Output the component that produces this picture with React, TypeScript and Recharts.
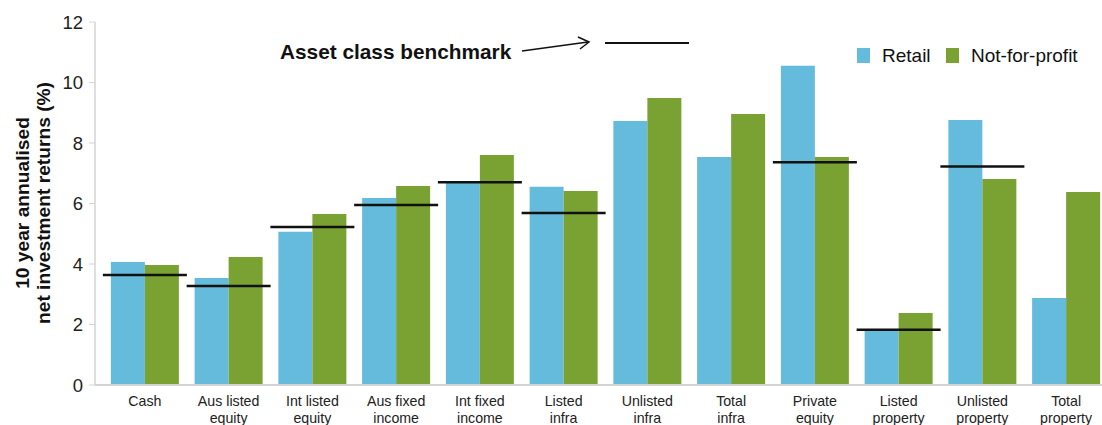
import React from 'react';
import { ComposedChart, Bar, Scatter, XAxis, YAxis } from 'recharts';

const categories = [
  'Cash|', 'Aus listed|equity', 'Int listed|equity', 'Aus fixed|income', 'Int fixed|income',
  'Listed|infra', 'Unlisted|infra', 'Total|infra', 'Private|equity', 'Listed|property',
  'Unlisted|property', 'Total|property',
];
const retail = [4.07, 3.54, 5.07, 6.18, 6.68, 6.55, 8.73, 7.54, 10.55, 1.82, 8.76, 2.88];
const notForProfit = [3.97, 4.23, 5.65, 6.58, 7.6, 6.41, 9.49, 8.96, 7.54, 2.38, 6.81, 6.38];
const benchmark: (number | null)[] = [3.64, 3.27, 5.22, 5.95, 6.7, 5.69, null, null, 7.36, 1.83, 7.22, null];
const yTicks = [0, 2, 4, 6, 8, 10, 12];

const data = categories.map((name, i) => ({
  name,
  retail: retail[i],
  nfp: notForProfit[i],
  benchmark: benchmark[i],
}));

const BLUE = '#65bbdb';
const GREEN = '#79a232';
const FONT = '"Liberation Sans", Arial, sans-serif';

const CategoryTick = (props: any) => {
  const { x, y, payload } = props;
  const [l1, l2] = String(payload.value).split('|');
  return (
    <text x={x} y={y} textAnchor="middle" fontFamily={FONT} fontSize={14.2} fill="#222">
      <tspan x={x} dy={13}>{l1}</tspan>
      {l2 ? <tspan x={x} dy={16.5}>{l2}</tspan> : null}
    </text>
  );
};

const BenchShape = (props: any) => {
  const { cx, cy, payload } = props;
  if (payload == null || payload.benchmark == null || cy == null || isNaN(cy)) return null;
  return <line x1={cx - 42} x2={cx + 42} y1={cy} y2={cy} stroke="#111" strokeWidth={2.5} />;
};

const YLabel = () => {
  const cx = 33;
  const cy = 203;
  return (
    <text
      transform={`rotate(-90, ${cx}, ${cy})`}
      x={cx}
      y={cy}
      textAnchor="middle"
      fontFamily={FONT}
      fontWeight="bold"
      fontSize={19.2}
      fill="#111"
    >
      <tspan x={cx} dy={-4}>10 year annualised</tspan>
      <tspan x={cx} dy={21}>net investment returns (%)</tspan>
    </text>
  );
};

export default function App() {
  return (
    <div style={{ position: 'absolute', left: 0, top: 0, width: 1102, height: 425, overflow: 'hidden', background: '#fff' }}>
      <ComposedChart
        width={1108}
        height={425}
        data={data}
        margin={{ top: 22, right: 0, bottom: 0, left: 0 }}
        barCategoryGap="9.4%"
        barGap={0}
      >
        <XAxis
          dataKey="name"
          height={40}
          padding={{ left: 8, right: 0 }}
          axisLine={{ stroke: '#d4d4d4', strokeWidth: 2 }}
          tickLine={false}
          interval={0}
          tick={<CategoryTick />}
        />
        <YAxis
          width={95}
          domain={[0, 12]}
          ticks={yTicks}
          interval={0}
          axisLine={{ stroke: '#d4d4d4', strokeWidth: 1.5 }}
          tickLine={{ stroke: '#d4d4d4' }}
          tickSize={6}
          tickMargin={6}
          tick={{ fontFamily: FONT, fontSize: 18.5, fill: '#222' }}
          label={{ content: <YLabel /> }}
        />
        <Bar dataKey="retail" name="Retail" fill={BLUE} isAnimationActive={false} />
        <Bar dataKey="nfp" name="Not-for-profit" fill={GREEN} isAnimationActive={false} />
        <Scatter dataKey="benchmark" name="Asset class benchmark" shape={<BenchShape />} isAnimationActive={false} legendType="none" />
      </ComposedChart>
      <svg width={1102} height={425} style={{ position: 'absolute', left: 0, top: 0, pointerEvents: 'none' }}>
        <text x={280} y={59} fontFamily={FONT} fontWeight="bold" fontSize={20.8} fill="#111">Asset class benchmark</text>
        <line x1={522} y1={51} x2={588} y2={42} stroke="#111" strokeWidth={1.5} />
        <polyline points="578,37 589,42 580,49" fill="none" stroke="#111" strokeWidth={1.5} />
        <line x1={605} y1={43} x2={689} y2={43} stroke="#111" strokeWidth={2} />
        <rect x={857} y={48} width={13} height={15} fill={BLUE} />
        <text x={882} y={62} fontFamily={FONT} fontSize={19} fill="#111">Retail</text>
        <rect x={946} y={48} width={13} height={15} fill={GREEN} />
        <text x={971} y={62} fontFamily={FONT} fontSize={19} fill="#111">Not-for-profit</text>
      </svg>
    </div>
  );
}
